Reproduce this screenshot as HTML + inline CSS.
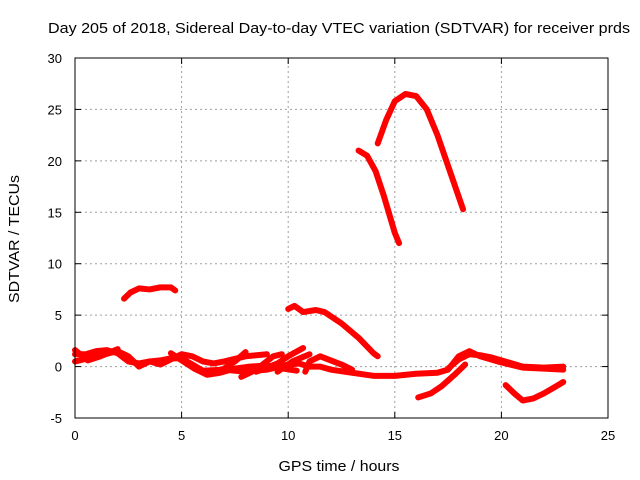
<!DOCTYPE html>
<html><head><meta charset="utf-8"><style>
body{margin:0;background:#fff}
svg{display:block;font-family:"Liberation Sans",sans-serif}
</style></head><body>
<svg width="640" height="480" id="c">
<text x="339" y="33" font-size="15" textLength="582" lengthAdjust="spacingAndGlyphs" text-anchor="middle">Day 205 of 2018, Sidereal Day-to-day VTEC variation (SDTVAR) for receiver prds</text>
<text x="339" y="471" font-size="15" textLength="121" lengthAdjust="spacingAndGlyphs" text-anchor="middle">GPS time / hours</text>
<text transform="translate(19,239) rotate(-90)" font-size="15" textLength="128" lengthAdjust="spacingAndGlyphs" text-anchor="middle">SDTVAR / TECUs</text>
<g id="grid"></g><g id="series"></g><g id="axes"></g>
</svg>
<script>
const xTicks=[0,5,10,15,20,25];
const yTicks=[-5,0,5,10,15,20,25,30];
const sA=[[2.3,6.6],[2.6,7.2],[3,7.6],[3.5,7.5],[4,7.7],[4.5,7.7],[4.7,7.4]];
const sB=[[10,5.6],[10.3,5.9],[10.7,5.3],[11.3,5.5],[11.7,5.3],[12.5,4.2],[13.3,2.8],[14,1.3],[14.2,1.0]];
const sC=[[13.3,21],[13.7,20.5],[14.1,19],[14.5,16.5],[15,13],[15.2,12]];
const sD=[[14.2,21.7],[14.6,24],[15,25.8],[15.5,26.5],[16,26.3],[16.5,25],[17,22.5],[17.5,19.5],[18,16.5],[18.2,15.3]];
const sE=[[16.1,-3],[16.7,-2.6],[17.2,-1.9],[17.8,-0.8],[18.3,0.2]];
const sF=[[20.2,-1.8],[20.6,-2.6],[21,-3.3],[21.5,-3.1],[22,-2.6],[22.5,-2.0],[22.9,-1.5]];
const sG=[[0,1.2],[0.5,1.2],[1,1.5],[1.5,1.6],[2,1.3],[2.5,0.5],[3,0.3],[3.5,0.5],[4,0.6],[4.5,0.8],[5,0.8],[5.5,0.2],[6,-0.4],[7,-0.3],[8,-0.5],[9,-0.3],[10,0.2],[10.5,0.3],[11,0.0],[11.5,0.0],[12,-0.3],[13,-0.6],[14,-0.9],[15,-0.9],[16,-0.7],[17,-0.6],[17.5,-0.3],[18,1.0],[18.5,1.5],[19,1.0],[20,0.4],[21,-0.1],[22,-0.2],[22.9,-0.3]];
const sH=[[0,0.5],[1,1.0],[2,1.5],[2.5,1.0],[3,0.0],[3.5,0.5],[4,0.2],[5,1.2],[5.5,1.0],[6,0.5],[6.5,0.3],[7,0.5],[8,1.0],[9,1.2]];
const sH2=[[0,1.6],[0.6,0.6],[1.2,1.0],[2,1.7]];
const sH3=[[4.5,1.3],[5,0.6],[5.6,-0.2],[6.2,-0.8],[6.8,-0.6],[7.5,-0.2],[8.2,0.0],[9,0.1],[9.8,-0.2],[10.4,-0.4]];
const sI1=[[6.7,-0.6],[7.5,0.5],[8,1.4]];
const sI2=[[7.8,-1.0],[8.5,-0.3],[9.3,1.0],[9.7,1.2]];
const sI3=[[8.5,-0.5],[9.5,0.3],[10,1.0],[10.7,1.8]];
const sI4=[[9.5,-0.5],[10.2,0.5],[11,1.2]];
const sJ=[[10.8,-0.5],[11,0.5],[11.5,1.0],[12,0.6],[12.5,0.2],[13,-0.3]];
const sK=[[17.5,-0.2],[18,0.7],[18.5,1.2],[19,1.1],[19.5,0.9],[20,0.6],[21,0.0],[22,-0.1],[22.9,0.0]];
const allSeries=[sA,sB,sC,sD,sE,sF,sG,sH,sH2,sH3,sI1,sI2,sI3,sI4,sJ,sK];
const X0=75,X1=608,Y0=418,Y1=58;
const xs=v=>X0+(v-0)/(25-0)*(X1-X0);
const ys=v=>Y0-(v+5)/35*(Y0-Y1);
const NS="http://www.w3.org/2000/svg";
function mk(t,a,p){const e=document.createElementNS(NS,t);for(const k in a)e.setAttribute(k,a[k]);p.appendChild(e);return e;}
const grid=document.getElementById('grid'),axes=document.getElementById('axes'),ser=document.getElementById('series');
xTicks.forEach(t=>{
 if(t>0&&t<25){const g=mk('line',{x1:xs(t),x2:xs(t),y1:Y0,y2:Y1,stroke:'#a0a0a0','stroke-dasharray':'2,3'},grid);
 
 }
 const l=mk('text',{x:xs(t),y:Y0+22,'font-size':13,'text-anchor':'middle'},axes);l.textContent=t;
 
 
 mk('line',{x1:xs(t),x2:xs(t),y1:Y0,y2:Y0-6,stroke:'#000'},axes);
 mk('line',{x1:xs(t),x2:xs(t),y1:Y1,y2:Y1+6,stroke:'#000'},axes);
});
yTicks.forEach(t=>{
 if(t>-5&&t<30){const g=mk('line',{x1:X0,x2:X1,y1:ys(t),y2:ys(t),stroke:'#a0a0a0','stroke-dasharray':'2,3'},grid);
 
 }
 const l=mk('text',{x:X0-13,y:ys(t)+5,'font-size':13,'text-anchor':'end'},axes);l.textContent=t;
 
 
 mk('line',{x1:X0,x2:X0+6,y1:ys(t),y2:ys(t),stroke:'#000'},axes);
 mk('line',{x1:X1,x2:X1-6,y1:ys(t),y2:ys(t),stroke:'#000'},axes);
});
const fr=mk('rect',{x:X0,y:Y1,width:X1-X0,height:Y0-Y1,fill:'none',stroke:'#000'},axes);


allSeries.forEach(s=>{
 const p=mk('polyline',{points:s.map(d=>xs(d[0])+','+ys(d[1])).join(' '),fill:'none',stroke:'#f00','stroke-width':6,'stroke-linejoin':'round','stroke-linecap':'round'},ser);
 
 
});
</script>
</body></html>
